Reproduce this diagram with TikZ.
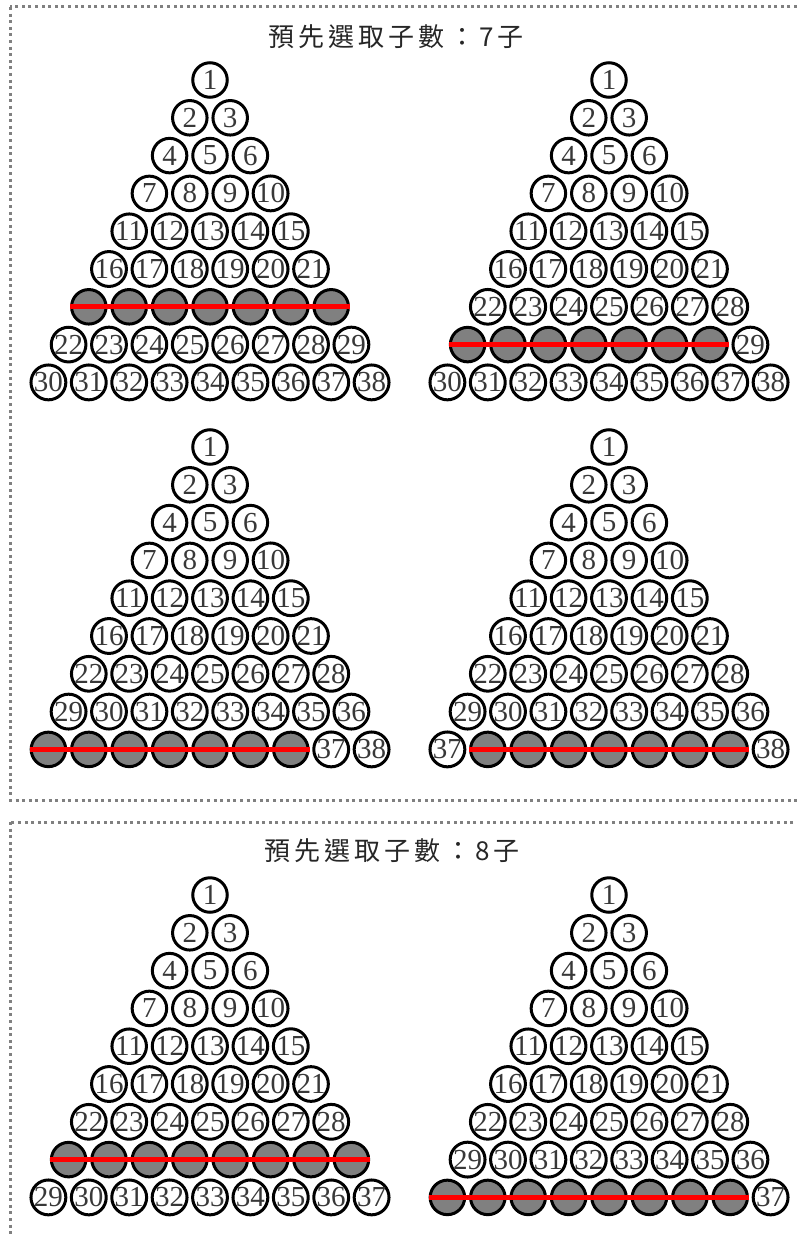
\documentclass[tikz,border=0pt]{standalone}
\usepackage{fontspec}
\setmainfont{Liberation Serif}
\newfontfamily\cjk[LetterSpace=16]{Noto Sans CJK TC}
\newcount\ballno
\tikzset{
 ball/.style={circle,draw=black,line width=3pt,fill=white,minimum size=34.5pt,inner sep=0pt,font=\fontsize{29}{29}\selectfont,text=black!78},
 grayball/.style={ball,fill=black!50},
 redline/.style={red,line width=5pt},
 frame/.style={black!50,line width=3pt,dash pattern=on 3pt off 3.6pt},
 title/.style={font=\cjk\fontsize{26}{26}\selectfont,text=black!85},
}
\newcommand\balltri[6]{%
 \global\ballno=0
 \foreach \r in {0,...,8}{%
  \foreach \k in {0,...,\r}{%
   \pgfmathsetmacro\bx{#2+(\k-\r/2)*40.4}%
   \pgfmathsetmacro\by{#3+\r*37.8}%
   \pgfmathtruncatemacro\isg{and(and(\r==#4,\k>=#5),\k<=#6)}%
   \ifnum\isg=1
     \node[grayball] (#1g\k) at (\bx,\by) {};
   \else
     \global\advance\ballno by 1
     \edef\bn{\the\ballno}%
     \node[ball] (#1n\bn) at (\bx,\by) {\bn};
   \fi
  }%
 }%
 \draw[redline] (#1g#5.west) -- (#1g#6.east);
}
\begin{document}
\begin{tikzpicture}[x=1pt,y=-1pt]
\useasboundingbox (0,0) rectangle (797,1236);
\begin{scope}
\clip (0,0) rectangle (797,1236);
\draw[frame] (10,7) rectangle (815,800);
\draw[frame] (10,822) rectangle (815,1260);
\end{scope}
\node[title] (t1) at (396,37) {預先選取子數：7子};
\node[title] (t2) at (392,851) {預先選取子數：8子};
\balltri{A}{210}{80}{6}{0}{6}
\balltri{B}{609}{80}{7}{0}{6}
\balltri{C}{210}{447}{8}{0}{6}
\balltri{D}{609}{447}{8}{1}{7}
\balltri{E}{210}{895}{7}{0}{7}
\balltri{F}{609}{895}{8}{0}{7}
\end{tikzpicture}
\end{document}
